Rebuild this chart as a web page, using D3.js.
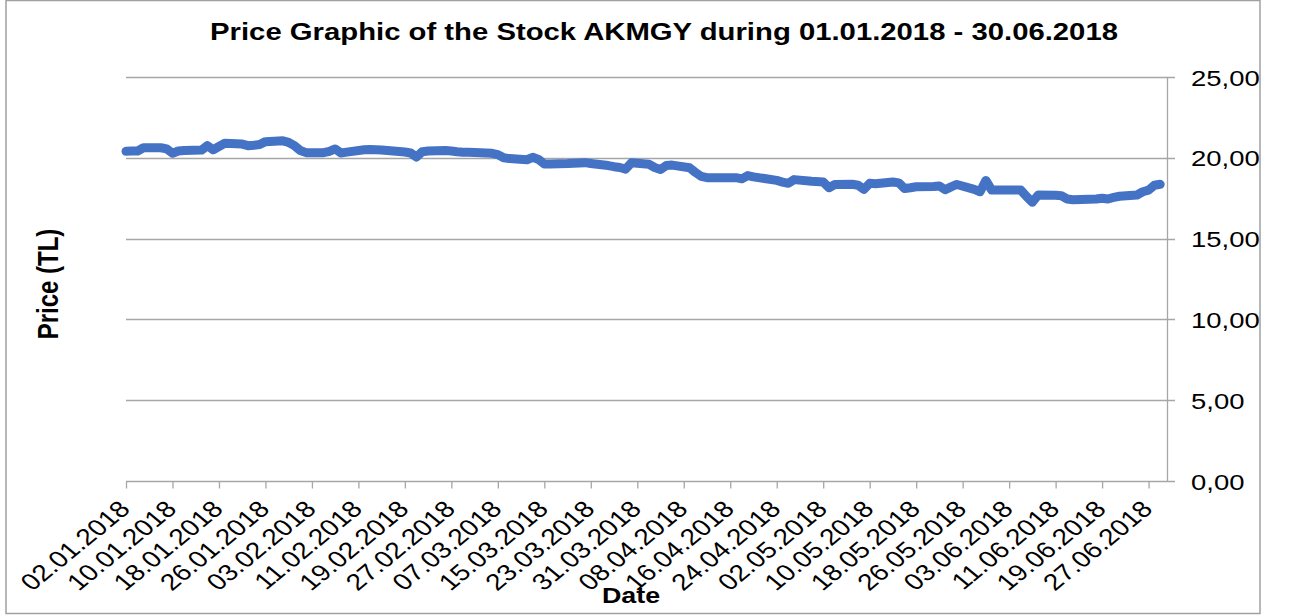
<!DOCTYPE html>
<html>
<head>
<meta charset="utf-8">
<script src="https://cdn.jsdelivr.net/npm/d3@7"></script>
<style>
    body { margin: 0; background: #fff; }
    svg { display: block; }
    text { font-family: "Liberation Sans", Arial, sans-serif; fill: #000; }
</style>
</head>
<body>
<div id="chart"></div>
<script>
// Trading days (dd.mm.yyyy)
const dates = [
    "02.01.2018", "03.01.2018", "04.01.2018", "05.01.2018", "08.01.2018", "09.01.2018", "10.01.2018",
    "11.01.2018", "12.01.2018", "15.01.2018", "16.01.2018", "17.01.2018", "18.01.2018", "19.01.2018",
    "22.01.2018", "23.01.2018", "24.01.2018", "25.01.2018", "26.01.2018", "29.01.2018", "30.01.2018",
    "31.01.2018", "01.02.2018", "02.02.2018", "05.02.2018", "06.02.2018", "07.02.2018", "08.02.2018",
    "09.02.2018", "12.02.2018", "13.02.2018", "14.02.2018", "15.02.2018", "16.02.2018", "19.02.2018",
    "20.02.2018", "21.02.2018", "22.02.2018", "23.02.2018", "26.02.2018", "27.02.2018", "28.02.2018",
    "01.03.2018", "02.03.2018", "05.03.2018", "06.03.2018", "07.03.2018", "08.03.2018", "09.03.2018",
    "12.03.2018", "13.03.2018", "14.03.2018", "15.03.2018", "16.03.2018", "19.03.2018", "20.03.2018",
    "21.03.2018", "22.03.2018", "23.03.2018", "26.03.2018", "27.03.2018", "28.03.2018", "29.03.2018",
    "30.03.2018", "02.04.2018", "03.04.2018", "04.04.2018", "05.04.2018", "06.04.2018", "09.04.2018",
    "10.04.2018", "11.04.2018", "12.04.2018", "13.04.2018", "16.04.2018", "17.04.2018", "18.04.2018",
    "19.04.2018", "20.04.2018", "24.04.2018", "25.04.2018", "26.04.2018", "27.04.2018", "30.04.2018",
    "02.05.2018", "03.05.2018", "04.05.2018", "07.05.2018", "08.05.2018", "09.05.2018", "10.05.2018",
    "11.05.2018", "14.05.2018", "15.05.2018", "16.05.2018", "17.05.2018", "18.05.2018", "21.05.2018",
    "22.05.2018", "23.05.2018", "24.05.2018", "25.05.2018", "28.05.2018", "29.05.2018", "30.05.2018",
    "31.05.2018", "01.06.2018", "04.06.2018", "05.06.2018", "06.06.2018", "07.06.2018", "08.06.2018",
    "11.06.2018", "12.06.2018", "13.06.2018", "14.06.2018", "18.06.2018", "19.06.2018", "20.06.2018",
    "21.06.2018", "22.06.2018", "25.06.2018", "26.06.2018", "27.06.2018", "28.06.2018", "29.06.2018"
];

const prices = [
    20.40, 20.42, 20.42, 20.62, 20.62, 20.55, 20.28,
    20.42, 20.45, 20.48, 20.75, 20.50, 20.70, 20.90,
    20.85, 20.75, 20.78, 20.82, 21.00, 21.05, 20.95,
    20.75, 20.45, 20.32, 20.32, 20.40, 20.55, 20.30,
    20.35, 20.50, 20.52, 20.50, 20.48, 20.45, 20.36,
    20.30, 20.05, 20.38, 20.42, 20.45, 20.42, 20.38,
    20.35, 20.34, 20.30, 20.28, 20.20, 20.00, 19.95,
    19.88, 20.03, 19.90, 19.62, 19.62, 19.64, 19.66,
    19.68, 19.70, 19.65, 19.52, 19.45, 19.40, 19.30,
    19.70, 19.60, 19.40, 19.28, 19.52, 19.55, 19.38,
    19.10, 18.85, 18.77, 18.77, 18.77, 18.77, 18.70,
    18.90, 18.82, 18.60, 18.50, 18.42, 18.65, 18.55,
    18.50, 18.15, 18.35, 18.36, 18.30, 18.05, 18.42,
    18.40, 18.50, 18.45, 18.10, 18.15, 18.21, 18.22,
    18.25, 18.02, 18.20, 18.35, 18.05, 17.90, 18.60,
    18.00, 18.00, 18.00, 18.00, 17.60, 17.25, 17.70,
    17.68, 17.65, 17.45, 17.40, 17.45, 17.50, 17.45,
    17.55, 17.62, 17.70, 17.90, 18.00, 18.30, 18.36
];

// Axis labels
const xTickLabels = [
    "02.01.2018", "10.01.2018", "18.01.2018", "26.01.2018", "03.02.2018", "11.02.2018",
    "19.02.2018", "27.02.2018", "07.03.2018", "15.03.2018", "23.03.2018", "31.03.2018",
    "08.04.2018", "16.04.2018", "24.04.2018", "02.05.2018", "10.05.2018", "18.05.2018",
    "26.05.2018", "03.06.2018", "11.06.2018", "19.06.2018", "27.06.2018"
];
const yTicks = [0, 5, 10, 15, 20, 25];
const xDomain = ["02.01.2018", "30.06.2018"];

const width = 1291;
const height = 616;
// the reference picture is a bit wider than tall, so text gets stretched
const sx = 1.22;

const parseDate = d3.utcParse("%d.%m.%Y");
const fmt = v => d3.format(".2f")(v).replace(".", ",");

const svg = d3.select("#chart")
    .append("svg")
    .attr("width", width)
    .attr("height", height);

// outer frame
svg.append("rect")
    .attr("x", 6)
    .attr("y", 0.5)
    .attr("width", 1254)
    .attr("height", 613)
    .attr("fill", "none")
    .attr("stroke", "#a0a0a0")
    .attr("stroke-width", 1.5);

const x = d3.scaleUtc()
    .domain(xDomain.map(parseDate))
    .range([126, 1166]);

const y = d3.scaleLinear()
    .domain([0, 25])
    .range([481, 77]);

const gridColor = "#a6a6a6";

// horizontal gridlines (running out past the right axis as ticks)
svg.append("g")
    .selectAll("line")
    .data(yTicks)
    .enter().append("line")
    .attr("x1", 126)
    .attr("x2", 1175)
    .attr("y1", d => Math.round(y(d)) + 0.5)
    .attr("y2", d => Math.round(y(d)) + 0.5)
    .attr("stroke", gridColor)
    .attr("stroke-width", 1.3);

// right value axis
const yAxis = svg.append("g")
    .attr("transform", `translate(1167,0)`)
    .call(d3.axisRight(y).tickValues(yTicks).tickSize(0).tickFormat(fmt));
yAxis.select(".domain")
    .attr("stroke", gridColor)
    .attr("stroke-width", 1.3);
yAxis.selectAll("text")
    .attr("x", 0)
    .attr("dy", "0.36em")
    .attr("transform", `translate(24,0) scale(${sx},1)`)
    .style("font-size", "22.5px")
    .style("font-family", "'Liberation Sans', Arial, sans-serif")
    .attr("fill", "#000");

// bottom date axis
const xAxis = svg.append("g")
    .attr("transform", `translate(0,${Math.round(y(0)) + 0.5})`)
    .call(d3.axisBottom(x).tickValues(xTickLabels.map(parseDate)).tickSize(7).tickSizeOuter(0)
        .tickFormat(d3.utcFormat("%d.%m.%Y")));
xAxis.select(".domain").remove();
xAxis.selectAll(".tick line")
    .attr("stroke", gridColor)
    .attr("stroke-width", 1.3);
xAxis.selectAll("text")
    .attr("x", 0)
    .attr("y", 0)
    .attr("dy", 0)
    .attr("text-anchor", "end")
    .attr("transform", `translate(5,29) scale(${sx},1) rotate(-45)`)
    .style("font-size", "23px")
    .style("font-family", "'Liberation Sans', Arial, sans-serif")
    .attr("fill", "#000");

// price line
const line = d3.line()
    .x((d, i) => x(parseDate(dates[i])))
    .y(d => y(d));

svg.append("path")
    .datum(prices)
    .attr("d", line)
    .attr("fill", "none")
    .attr("stroke", "#4472c4")
    .attr("stroke-width", 9)
    .attr("stroke-linejoin", "round")
    .attr("stroke-linecap", "round");

// titles
svg.append("text")
    .attr("transform", `translate(664,40) scale(${sx},1)`)
    .attr("text-anchor", "middle")
    .style("font-size", "24px")
    .style("font-weight", "bold")
    .text("Price Graphic of the Stock AKMGY during 01.01.2018 - 30.06.2018");

svg.append("text")
    .attr("transform", `translate(58,284) scale(${sx},1) rotate(-90)`)
    .attr("text-anchor", "middle")
    .style("font-size", "24px")
    .style("font-weight", "bold")
    .text("Price (TL)");

svg.append("text")
    .attr("transform", `translate(631,603) scale(${sx},1)`)
    .attr("text-anchor", "middle")
    .style("font-size", "22px")
    .style("font-weight", "bold")
    .text("Date");
</script>
</body>
</html>
